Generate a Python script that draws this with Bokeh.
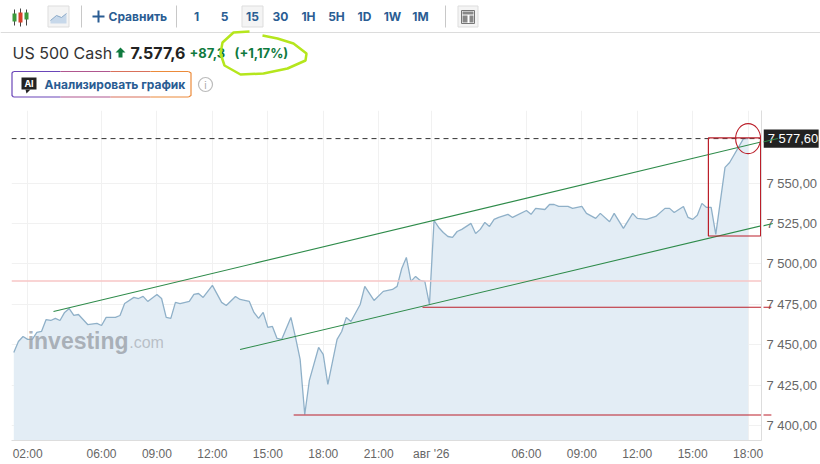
from bokeh.plotting import figure
from bokeh.layouts import column
from bokeh.models import Range1d, FixedTicker
from bokeh.core.properties import value
from bokeh.embed import file_html
from bokeh.resources import INLINE

# ---- chart data ----
bars = [0,1,2,3,4,5,6,7,8,9,10,11,12,13,14,15,16,18,19,20,22,23,24,26,27,28,29,31,32,33,34,35,36,38,39,40,41,43,45,46,48,49,51,52,53,54,55,56,57,58,60,61,62,63,64,66,67,68,70,71,72,73,75,76,78,80,82,83,84,85,86,87,88,89,90,91,92,93,94,95,96,97,99,100,101,102,103,104,105,107,108,111,112,113,115,116,117,118,120,121,123,124,126,127,129,130,132,134,135,137,139,141,142,143,145,146,147,148,149,150,151,152,154,155,158,159]
prices = [7445.2,7452.0,7455.1,7453.3,7453.3,7457.6,7458.2,7465.6,7465.0,7466.3,7465.0,7470.0,7472.4,7468.1,7468.7,7465.6,7462.5,7463.2,7461.9,7466.9,7466.9,7468.1,7475.5,7479.3,7478.6,7479.9,7476.8,7481.1,7478.6,7466.9,7466.3,7476.2,7475.5,7476.8,7481.1,7481.7,7479.3,7486.7,7476.2,7474.3,7479.9,7478.0,7476.8,7470.0,7466.3,7470.0,7460.7,7461.3,7453.9,7453.3,7466.9,7454.5,7440.9,7406.8,7427.9,7448.3,7444.0,7425.4,7453.3,7458.2,7466.9,7464.4,7474.9,7486.1,7477.4,7483.0,7484.2,7486.1,7497.2,7504.0,7489.2,7492.3,7489.8,7489.2,7474.9,7526.9,7522.6,7519.5,7517.0,7516.4,7520.1,7521.4,7525.1,7518.9,7521.4,7525.7,7523.2,7527.6,7528.8,7530.7,7528.8,7533.1,7530.7,7534.4,7533.7,7536.8,7536.8,7535.6,7535.6,7534.4,7535.6,7531.3,7528.2,7531.3,7526.1,7531.3,7522.0,7531.3,7528.2,7527.6,7529.4,7534.4,7534.4,7531.9,7535.6,7528.8,7527.6,7530.1,7537.5,7535.0,7535.0,7518.3,7559.8,7562.8,7577.6,7577.6]
x_ticks = [3,19,31,43,55,67,79,90.4,111,123,135,147,159]
x_labels = ["02:00","06:00","09:00","12:00","15:00","18:00","21:00","авг '26","06:00","09:00","12:00","15:00","18:00"]
y_ticks = [7400,7425,7450,7475,7500,7525,7550]
y_labels = ["7 400,00","7 425,00","7 450,00","7 475,00","7 500,00","7 525,00","7 550,00"]
last_price = 7577.6
last_label = "7 577,60"
pink_level = 7489.4
red_levels = [7473.2, 7406.5]
red_starts = [88.5, 60.6]
upper_trend = [(8.6,7470.6),(165,7577.7)]
lower_trend = [(49,7447),(163.9,7525)]

FONT = "Liberation Sans"
UI = "Inter"
BLUE = "#2a5d93"
GREEN = "#0f7a3e"
RED = "#bb1f2a"
LINEGREEN = "#2e8b4a"

# ---- header (toolbar and title) ----
h = figure(width=820, height=110, x_range=Range1d(0,820), y_range=Range1d(110,0),
           x_axis_location=None, y_axis_location=None, frame_align=False,
           min_border_left=0, min_border_right=0, min_border_top=0, min_border_bottom=0,
           output_backend="svg", toolbar_location=None, outline_line_color=None)
h.grid.visible = False
h.segment([0],[32],[820],[32],line_color="#dcdcdc",line_width=1)
h.segment([81,176,445],[5,5,5],[81,176,445],[27,27,27],line_color="#c8c8c8",line_width=1)
h.segment([14,20,26],[9,8,9],[14,20,26],[25,26,25],line_color="#444",line_width=1)
h.quad(left=[12,18,24],right=[16,22,28],top=[13,12,12],bottom=[21,22,19],
       fill_color=["#3c9a3c","#d8402a","#3c9a3c"],line_color=None)
h.quad(left=[47.5,241.5,457.5],right=[68.5,262.5,477.5],top=[5.5,5.5,5.5],bottom=[26.5,26.5,26.5],
       fill_color=["#f4f4f4","#f4f4f4","#f4f4f4"],line_color="#dddddd")
h.varea([50,56,61,66],[23,23,23,23],[20,15,17,13],fill_color="#c7d8ea")
h.line([50,56,61,66],[20,15,17,13],line_color="#8aa9c8",line_width=1)
h.quad(left=[461],right=[474],top=[10],bottom=[23],fill_color="#ffffff",line_color="#777")
h.quad(left=[462,462,469],right=[473,467,473],top=[11,15,15],bottom=[14,22,22],fill_color="#888888",line_color=None)
h.segment([92,98],[16,10],[104,98],[16,22],line_color=BLUE,line_width=2)
h.text([108],[16],text=["Сравнить"],text_font=value(UI),text_font_size="12px",text_font_style="bold",
       text_color=BLUE,text_baseline="middle")
nx = [196,224,252,280,308,336,364,392,420]
nt = ["1","5","15","30","1H","5H","1D","1W","1M"]
h.text(nx,[16]*9,text=nt,text_font=value(UI),text_font_size="12px",text_font_style="bold",
       text_color=BLUE,text_align="center",text_baseline="middle")
h.text([12],[52],text=["US 500 Cash"],text_font=value(UI),text_font_size="16px",text_color="#333333",text_baseline="middle")
h.patch([120,125,122,122,118,118,115],[47,52,52,57,57,52,52],fill_color=GREEN,line_color=None)
h.text([130],[52],text=["7.577,6"],text_font=value(UI),text_font_size="16px",text_font_style="bold",text_color="#222222",text_baseline="middle")
h.text([189],[52],text=["+87,3"],text_font=value(UI),text_font_size="13px",text_font_style="bold",text_color=GREEN,text_baseline="middle")
h.text([234],[52],text=["(+1,17%)"],text_font=value(UI),text_font_size="13px",text_font_style="bold",text_color=GREEN,text_baseline="middle")
h.line([249,233,222,220,224,240,263,287,305,306,293,277,262],
       [31,32,42,53,65,74,73,68,60,53,43,38,35],line_color="#b5e61d",line_width=2.5)
seg_x = [[13,60],[60,110],[110,150],[150,188]]
seg_c = ["#6a45b8","#b0568f","#d9705a","#ec8a3a"]
for (a,b),c in zip(seg_x,seg_c):
    h.segment([a,a],[71,96.5],[b,b],[71,96.5],line_color=c,line_width=1.2)
h.line([13,11.5,11.5,13],[71,72.5,95,96.5],line_color="#6a45b8",line_width=1.2)
h.line([188,190.5,190.5,188],[71,72.5,95,96.5],line_color="#ec8a3a",line_width=1.2)
h.quad(left=[21],right=[36],top=[77],bottom=[89],fill_color="#222222",line_color=None)
h.patch([25,30,26],[89,89,93],fill_color="#222222",line_color=None)
h.text([28.5],[83],text=["AI"],text_font=value(UI),text_font_size="9px",text_font_style="bold",text_color="#ffffff",
       text_align="center",text_baseline="middle")
h.text([44],[84],text=["Анализировать график"],text_font=value(UI),text_font_size="12px",text_font_style="bold",
       text_color=BLUE,text_baseline="middle")
h.scatter([205],[84],size=14,marker="circle",fill_color=None,line_color="#bbbbbb",line_width=1.2)
h.text([205],[84],text=["i"],text_font=value(UI),text_font_size="10px",text_color="#aaaaaa",text_align="center",text_baseline="middle")

# ---- chart ----
yr = Range1d(7390.7,7595.0)
p = figure(width=820, height=354, x_range=Range1d(-0.497,161.9), y_range=yr,
           output_backend="svg", toolbar_location=None, y_axis_location="right", frame_align=False,
           min_border_left=11, min_border_right=57, min_border_top=0, min_border_bottom=24,
           outline_line_color=None)
p.xgrid.grid_line_color = "#f1f1f1"
p.ygrid.grid_line_color = "#f1f1f1"
p.xaxis.ticker = FixedTicker(ticks=x_ticks)
p.yaxis.ticker = FixedTicker(ticks=y_ticks)
p.xaxis.major_label_overrides = {k: v for k, v in zip(x_ticks, x_labels)}
p.yaxis.major_label_overrides = {k: v for k, v in zip(y_ticks, y_labels)}
for ax in (p.xaxis, p.yaxis):
    ax.major_label_text_font = FONT
    ax.major_label_text_color = "#666666"
    ax.axis_line_color = "#dddddd"
    ax.major_tick_line_color = None
    ax.minor_tick_line_color = None
    ax.major_tick_in = 0
    ax.major_tick_out = 0
    ax.minor_tick_in = 0
    ax.minor_tick_out = 0
p.xaxis.major_label_text_font_size = "12px"
p.yaxis.major_label_text_font_size = "13px"
p.xaxis.major_label_standoff = 6
p.yaxis.major_label_standoff = 5

p.varea(bars, [yr.start]*len(bars), prices, fill_color="#e3edf5")
p.line(bars, prices, line_color="#8fb0c8", line_width=1.3)
p.segment([-0.497],[pink_level],[161.9],[pink_level],line_color="#f7c6c6",line_width=1.5)
p.segment([-0.497],[last_price],[161.9],[last_price],line_color="#333333",line_width=1,line_dash="5 4")

p.text([3],[7452],text=["investing"],text_font=value("Liberation Sans"),text_font_size="23px",text_font_style="bold",
       text_color="#9aa0a8",text_alpha=0.8,text_baseline="middle")
p.text([25],[7451.5],text=[".com"],text_font=value("Liberation Sans"),text_font_size="16px",
       text_color="#a5abb2",text_alpha=0.7,text_baseline="middle")

for tr in (upper_trend, lower_trend):
    p.segment([tr[0][0]],[tr[0][1]],[tr[1][0]],[tr[1][1]],line_color=LINEGREEN,line_width=1.1)
for lv, st in zip(red_levels, red_starts):
    p.segment([st],[lv],[163.6],[lv],line_color=RED,line_width=1.2)
p.quad(left=[150.4],right=[161.7],top=[7578],bottom=[7517.3],fill_color=None,line_color=RED,line_width=1.2)
p.ellipse([159],[last_price],width=[5.4],height=[18.6],fill_color=None,line_color=RED,line_width=1.1)

# ---- transparent strip over the price axis: the same scales, carried on past the frame ----
o = figure(width=57, height=330, x_range=Range1d(161.9,174.2), y_range=yr,
           x_axis_location=None, y_axis_location=None, frame_align=False,
           min_border_left=0, min_border_right=0, min_border_top=0, min_border_bottom=0,
           output_backend="svg", toolbar_location=None, outline_line_color=None,
           background_fill_alpha=0, border_fill_alpha=0, margin=(-354,0,24,763))
o.grid.visible = False
o.quad(left=[161.9],right=[173.8],top=[last_price+5.6],bottom=[last_price-5.6],fill_color="#222222",line_color=None)
o.text([162.8],[last_price],text=[last_label],text_font=value(FONT),text_font_size="13px",text_color="#ffffff",text_baseline="middle")
for tr in (upper_trend, lower_trend):
    o.segment([tr[0][0]],[tr[0][1]],[tr[1][0]],[tr[1][1]],line_color=LINEGREEN,line_width=1.1)
for lv, st in zip(red_levels, red_starts):
    o.segment([st],[lv],[163.6],[lv],line_color=RED,line_width=1.2)

page = column(h, p, o, spacing=0)
open("out.html", "w").write(file_html(page, INLINE))
